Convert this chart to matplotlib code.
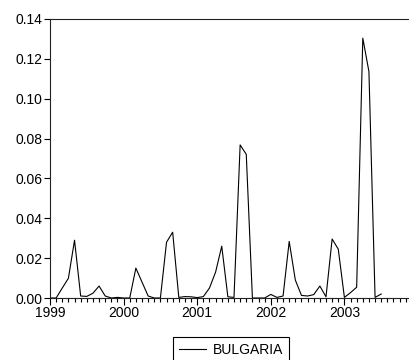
import numpy as np
import matplotlib.pyplot as plt
from matplotlib.ticker import MultipleLocator, FixedLocator

plt.rcParams['font.family'] = ['Liberation Sans', 'DejaVu Sans']
plt.rcParams['font.size'] = 10

# monthly series, 1999M01 - 2003M07
series_name = 'BULGARIA'
start_year = 1999
values = [
    0.0, 0.0, 0.005, 0.0099, 0.029, 0.001, 0.0008, 0.0024, 0.006, 0.001, 0.0, 0.0003,
    0.0, 0.0, 0.015, 0.008, 0.001, 0.0, 0.0, 0.028, 0.033, 0.0003, 0.0007, 0.0006,
    0.0002, 0.0007, 0.005, 0.013, 0.026, 0.0006, 0.0003, 0.0768, 0.0721, 0.0, 0.0, 0.0,
    0.0018, 0.0003, 0.001, 0.0284, 0.009, 0.0013, 0.001, 0.0017, 0.006, 0.0006, 0.0296, 0.0245,
    0.0003, 0.0027, 0.0054, 0.1304, 0.1136, 0.0003, 0.002,
]
year_ticks = [1999, 2000, 2001, 2002, 2003]

t = start_year + np.arange(len(values)) / 12.0

fig = plt.figure(figsize=(4.1, 3.6), dpi=100)
ax = fig.add_axes([50 / 410, 1 - 298 / 360, 368 / 410, 279 / 360])

ax.plot(t, values, color='black', linewidth=0.8, label=series_name)

ax.set_xlim(1999, 2004)
ax.set_ylim(0, 0.14)
ax.xaxis.set_major_locator(FixedLocator(year_ticks))
ax.xaxis.set_minor_locator(MultipleLocator(1 / 12))
ax.yaxis.set_major_locator(MultipleLocator(0.02))
ax.yaxis.set_major_formatter(plt.FuncFormatter(lambda v, p: f'{v:.2f}'))

for s in ax.spines.values():
    s.set_linewidth(0.8)
    s.set_color('#222222')
ax.spines['right'].set_visible(False)

ax.tick_params(axis='x', which='major', length=5, width=0.8, pad=1)
ax.tick_params(axis='x', which='minor', length=3, width=0.8)
ax.tick_params(axis='y', which='major', length=4, width=0.8, pad=1.5)

leg = fig.legend(loc='upper left', bbox_to_anchor=(173 / 410, 1 - 337 / 360),
                 frameon=True, fancybox=False, edgecolor='black', framealpha=1,
                 handlelength=1.9, handletextpad=0.5, borderpad=0.45,
                 borderaxespad=0, fontsize=10)
leg.get_frame().set_linewidth(0.8)

fig.savefig('out.png', dpi=100)
